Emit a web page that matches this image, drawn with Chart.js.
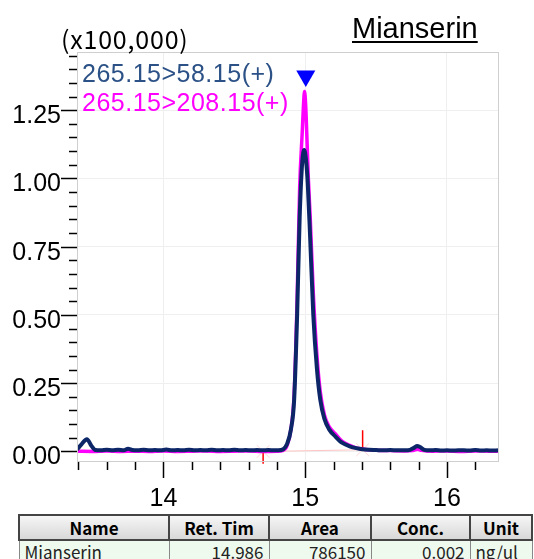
<!DOCTYPE html>
<html>
<head>
<meta charset="utf-8">
<script src="https://cdn.jsdelivr.net/npm/chart.js@4"></script>
<style>
  body { margin: 0; background: #fff; width: 534px; height: 559px; overflow: hidden; position: relative; font-family: 'Liberation Sans', Arial, sans-serif; }
  #wrap { position: absolute; left: 0; top: 0; width: 534px; height: 510px; }
  .lbl { position: absolute; white-space: nowrap; }
  #unit { left: 61px; top: 23px; font-size: 25px; letter-spacing: 0.8px; font-family: 'Noto Sans CJK JP', sans-serif; line-height: 30px; }
  #title { left: 352px; top: 11px; font-size: 29px; text-decoration: underline; text-underline-offset: 3px; line-height: 34px; }
  .leg { left: 82px; font-size: 25px; letter-spacing: 0.5px; line-height: 28px; font-family: 'Liberation Sans', sans-serif; }
  #leg1 { top: 59px; color: #2b5186; }
  #leg2 { top: 88px; color: #ff00ff; }
  table { position: absolute; left: 18px; top: 514px; border-collapse: collapse; font-family: 'Noto Sans CJK JP', 'Liberation Sans', sans-serif; font-size: 17px; }
  th { background: linear-gradient(#f6f6f6, #d8d8d8); border: 2px solid #444; height: 23px; padding: 0 4px; font-weight: bold; line-height: 20px; }
  td { background: #eefaee; border: 1px solid #888; border-top: 0; height: 21px; padding: 0 5px; line-height: 20px; color: #222; }
  td.r { text-align: right; }
</style>
</head>
<body>
<div id="wrap"><canvas id="chart" width="534" height="510"></canvas></div>
<div class="lbl" id="unit">(x100,000)</div>
<div class="lbl" id="title">Mianserin</div>
<div class="lbl leg" id="leg1">265.15&gt;58.15(+)</div>
<div class="lbl leg" id="leg2">265.15&gt;208.15(+)</div>
<table>
  <tr><th style="width:140px">Name</th><th style="width:90px">Ret. Tim</th><th style="width:92px">Area</th><th style="width:89px">Conc.</th><th style="width:52px">Unit</th></tr>
  <tr><td>Mianserin</td><td class="r">14.986</td><td class="r">786150</td><td class="r">0.002</td><td>ng/ul</td></tr>
</table>
<script>
// axis ticks
const xTicks = [13.4, 13.6, 13.8, 14.0, 14.2, 14.4, 14.6, 14.8, 15.0, 15.2, 15.4, 15.6, 15.8, 16.0, 16.2];
const xLabels = ['14', '15', '16'];
const yTicks = [0, 0.05, 0.10, 0.15, 0.20, 0.25, 0.30, 0.35, 0.40, 0.45, 0.50, 0.55, 0.60, 0.65, 0.70,
  0.75, 0.80, 0.85, 0.90, 0.95, 1.00, 1.05, 1.10, 1.15, 1.20, 1.25, 1.30, 1.35, 1.40, 1.45];
const yLabels = ['0.00', '0.25', '0.50', '0.75', '1.00', '1.25'];

// 265.15>58.15(+)
const blueTime = [13.39, 13.42, 13.46, 13.49, 13.52, 13.56, 13.60, 13.64, 13.68, 13.72, 13.75, 13.78, 13.82, 13.86,
  13.90, 13.94, 13.98, 14.02, 14.06, 14.10, 14.14, 14.18, 14.22, 14.26, 14.30, 14.34, 14.38, 14.42, 14.46, 14.50,
  14.54, 14.58, 14.62, 14.66, 14.70, 14.74, 14.78, 14.81, 14.845, 14.871, 14.899, 14.922, 14.943, 14.961, 14.979,
  14.993, 15.007, 15.018, 15.035, 15.057, 15.083, 15.106, 15.135, 15.170, 15.212, 15.259, 15.318, 15.36, 15.403,
  15.45, 15.50, 15.55, 15.60, 15.65, 15.70, 15.74, 15.77, 15.79, 15.81, 15.84, 15.88, 15.92, 15.96, 16.00, 16.04,
  16.08, 16.12, 16.16, 16.20, 16.24, 16.28, 16.32, 16.36];
const blueVal = [0.007, 0.025, 0.045, 0.022, 0.005, 0.004, 0.006, 0.004, 0.006, 0.004, 0.010, 0.005, 0.004, 0.006,
  0.004, 0.005, 0.004, 0.007, 0.004, 0.005, 0.004, 0.006, 0.004, 0.005, 0.004, 0.006, 0.004, 0.005, 0.004, 0.006,
  0.004, 0.005, 0.004, 0.005, 0.004, 0.005, 0.004, 0.004, 0.008, 0.026, 0.08, 0.19, 0.50, 0.86, 1.06,
  1.104, 1.06, 0.98, 0.78, 0.50, 0.30, 0.19, 0.12, 0.08, 0.055, 0.032, 0.018, 0.012, 0.008,
  0.006, 0.005, 0.004, 0.005, 0.004, 0.004, 0.006, 0.014, 0.020, 0.016, 0.006, 0.004, 0.005, 0.003, 0.004, 0.003,
  0.004, 0.004, 0.003, 0.005, 0.003, 0.004, 0.003, 0.004];

// 265.15>208.15(+)
const magTime = [13.39, 13.50, 13.60, 13.70, 13.80, 13.90, 14.00, 14.10, 14.20, 14.30, 14.40, 14.50, 14.60, 14.70,
  14.80, 14.845, 14.871, 14.899, 14.922, 14.943, 14.961, 14.979, 14.987, 14.995, 15.003, 15.014, 15.022, 15.035,
  15.057, 15.083, 15.106, 15.135, 15.170, 15.212, 15.259, 15.318, 15.36, 15.403, 15.45, 15.50, 15.60, 15.70, 15.76,
  15.79, 15.82, 15.90, 16.00, 16.10, 16.20, 16.30, 16.36];
const magVal = [0.001, 0.000, 0.002, 0.000, 0.001, 0.000, 0.002, 0.000, 0.001, 0.002, 0.000, 0.001, 0.002, 0.000,
  0.001, 0.004, 0.02, 0.08, 0.21, 0.56, 0.97, 1.17, 1.26, 1.318, 1.27, 1.12, 1.00, 0.86,
  0.58, 0.35, 0.22, 0.135, 0.09, 0.065, 0.038, 0.021, 0.013, 0.009, 0.006, 0.004, 0.003, 0.002, 0.003,
  0.008, 0.004, 0.001, 0.002, 0.000, 0.002, 0.001, 0.001];

// peak top marker and integration start / end
const peakMark = [15.004, 1.375];
const intStart = [14.703, 0.0];
const intEnd = [15.405, 0.006];

const toXY = (t, v) => t.map((x, i) => ({ x: x, y: v[i] }));
const isMajor = (v, list) => list.some(l => Math.abs(parseFloat(l) - v) < 1e-6);

// frame, tick marks and y labels (labels sit a little below their ticks in the original)
const axisDecor = {
  id: 'axisDecor',
  afterDraw(chart) {
    const ctx = chart.ctx, a = chart.chartArea;
    ctx.save();
    ctx.strokeStyle = '#cfcfcf';
    ctx.lineWidth = 1;
    ctx.strokeRect(a.left + 0.5, a.top + 0.5, a.right - a.left, a.bottom - a.top);
    ctx.strokeStyle = '#000';
    ctx.lineWidth = 1.5;
    const ys = chart.scales.y, xs = chart.scales.x;
    ctx.fillStyle = '#000';
    ctx.font = '25px "Liberation Sans"';
    ctx.textAlign = 'right';
    ctx.textBaseline = 'middle';
    ys.ticks.forEach(t => {
      const y = Math.round(ys.getPixelForValue(t.value)) + 0.5;
      const major = isMajor(t.value, yLabels);
      const len = major ? 16 : 8;
      ctx.beginPath(); ctx.moveTo(a.left - len, y); ctx.lineTo(a.left, y); ctx.stroke();
      if (major) ctx.fillText(t.value.toFixed(2), a.left - 16, y + 6);
    });
    xs.ticks.forEach(t => {
      const x = Math.round(xs.getPixelForValue(t.value)) + 0.5;
      const len = isMajor(t.value, xLabels) ? 16 : 8;
      ctx.beginPath(); ctx.moveTo(x, a.bottom + 1); ctx.lineTo(x, a.bottom + 1 + len); ctx.stroke();
    });
    ctx.restore();
  }
};

new Chart(document.getElementById('chart'), {
  type: 'line',
  data: {
    datasets: [
      { data: [{ x: peakMark[0], y: peakMark[1] }], showLine: false, pointStyle: 'triangle', rotation: 180,
        pointRadius: 11, backgroundColor: '#0000ff', borderColor: '#0000ff', borderWidth: 0 },
      { data: toXY(blueTime, blueVal), borderColor: '#0c2668', borderWidth: 4, pointRadius: 0, cubicInterpolationMode: 'monotone' },
      { data: toXY(magTime, magVal), borderColor: '#ff00ff', borderWidth: 3.5, pointRadius: 0, cubicInterpolationMode: 'monotone' },
      { data: [{ x: intStart[0], y: intStart[1] }, { x: intStart[0], y: intStart[1] - 0.045 }, { x: intStart[0], y: null },
               { x: intEnd[0], y: intEnd[1] }, { x: intEnd[0], y: intEnd[1] + 0.072 }],
        borderColor: '#ff0000', borderWidth: 1.5, pointRadius: 0, spanGaps: false, clip: false },
      { data: [{ x: intStart[0], y: intStart[1] }, { x: intEnd[0], y: intEnd[1] }], showLine: false, pointStyle: 'crossRot', pointRadius: 9, borderColor: '#ffd6d6', borderWidth: 1 },
      { data: [{ x: intStart[0], y: intStart[1] }, { x: intEnd[0], y: intEnd[1] }], borderColor: '#ffc4c4', borderWidth: 1, pointRadius: 0 }
    ]
  },
  options: {
    responsive: false,
    animation: false,
    events: [],
    layout: { padding: { left: 0, top: 52, right: 36, bottom: 0 } },
    plugins: { legend: { display: false }, tooltip: { enabled: false } },
    scales: {
      x: {
        type: 'linear', min: 13.39, max: 16.36,
        afterFit(s) { s.height = 49; },
        afterBuildTicks(s) { s.ticks = xTicks.map(v => ({ value: v })); },
        border: { display: false },
        grid: { drawTicks: false, color: c => (c.tick && isMajor(c.tick.value, xLabels)) ? '#efefef' : 'rgba(0,0,0,0)' },
        ticks: {
          padding: 23, color: '#000', font: { family: 'Liberation Sans', size: 25 }, maxRotation: 0, autoSkip: false,
          callback: v => isMajor(v, xLabels) ? String(Math.round(v)) : ''
        }
      },
      y: {
        min: -0.035, max: 1.463,
        afterFit(s) { s.width = 77; },
        afterBuildTicks(s) { s.ticks = yTicks.map(v => ({ value: v })); },
        border: { display: false },
        grid: { drawTicks: false, color: c => (c.tick && isMajor(c.tick.value, yLabels)) ? '#efefef' : 'rgba(0,0,0,0)' },
        ticks: { display: false }
      }
    }
  },
  plugins: [axisDecor]
});
</script>
</body>
</html>
